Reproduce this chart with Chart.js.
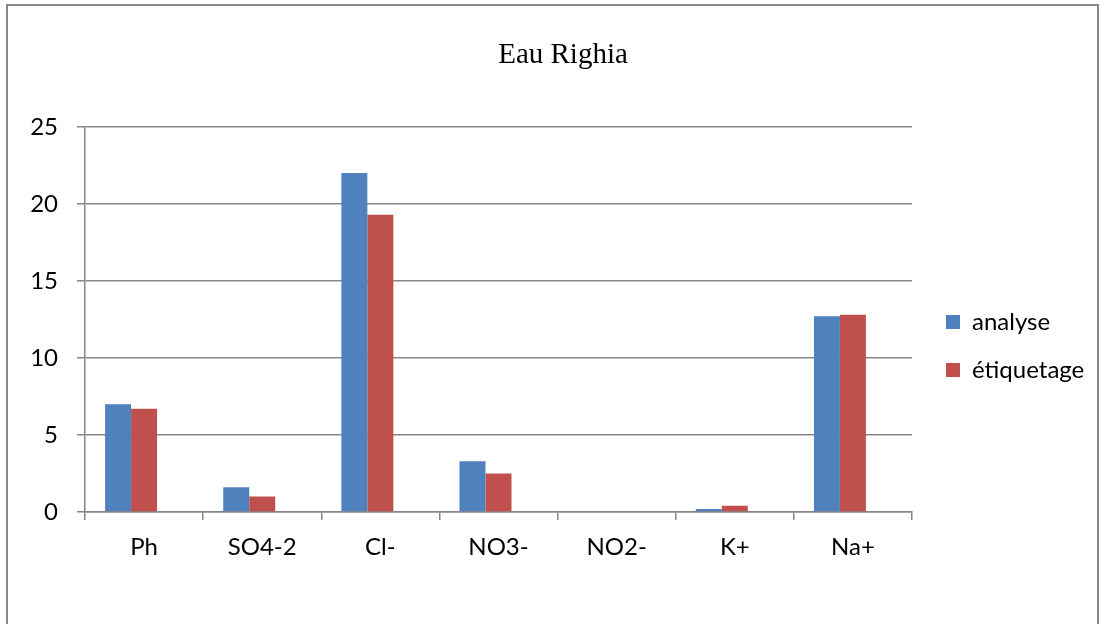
<!DOCTYPE html>
<html>
<head>
<meta charset="utf-8">
<title>Eau Righia</title>
<script src="https://cdn.jsdelivr.net/npm/chart.js@4.4.0/dist/chart.umd.min.js"></script>
<style>
    html, body { margin: 0; padding: 0; background: #fff; overflow: hidden; }
    #frame {
        position: absolute; left: 6px; top: 4px; width: 1093px; height: 700px;
        box-sizing: border-box; border: 2px solid #878787;
    }
    #chart { position: absolute; left: 0; top: 0; }
</style>
</head>
<body>
<div id="frame"></div>
<canvas id="chart" width="1106" height="692"></canvas>
<script>
// Values
const categories = ["Ph", "SO4-2", "Cl-", "NO3-", "NO2-", "K+", "Na+"];
const analyse = [7.0, 1.6, 22.0, 3.3, 0, 0.2, 12.7];
const etiquetage = [6.7, 1.0, 19.3, 2.5, 0, 0.4, 12.8];
// the original sheet has a third, empty series (keeps the gap on the right of each group)
const emptySeries = [null, null, null, null, null, null, null];
const yMin = 0, yMax = 25, yStep = 5;

const gridGrey = "#878787";
const labelFont = { family: "Lato", size: 24 };

// pin the legend width so the plot ends where the original one does
const legendFix = {
    id: "legendFix",
    afterInit(chart) {
        const fit = chart.legend.fit;
        chart.legend.fit = function () {
            fit.call(this);
            this.width = 194;
        };
    },
    afterLayout(chart) {
        chart.legend.left += 10;
        chart.legend.right += 10;
    }
};

const ctx = document.getElementById("chart").getContext("2d");
new Chart(ctx, {
    type: "bar",
    data: {
        labels: categories,
        datasets: [
            { label: "analyse", data: analyse, backgroundColor: "#4F81BD" },
            { label: "étiquetage", data: etiquetage, backgroundColor: "#C0504D" },
            { label: "", data: emptySeries, backgroundColor: "rgba(0,0,0,0)" }
        ]
    },
    options: {
        responsive: false,
        animation: false,
        layout: { padding: { left: 20, right: 0, top: 0, bottom: 0 } },
        datasets: {
            bar: { categoryPercentage: 0.66, barPercentage: 1.0 }
        },
        plugins: {
            title: {
                display: true,
                text: "Eau Righia",
                color: "#000",
                font: { family: "Liberation Serif", size: 29, weight: "normal" },
                padding: { top: 38, bottom: 54 }
            },
            legend: {
                position: "right",
                align: "center",
                labels: {
                    color: "#000",
                    font: labelFont,
                    boxWidth: 14,
                    boxHeight: 14,
                    padding: 24,
                    filter: item => item.datasetIndex < 2
                }
            },
            tooltip: { enabled: false }
        },
        scales: {
            x: {
                afterFit(scale) { scale.height = 180; },
                border: { display: true, color: gridGrey, width: 1.5 },
                grid: {
                    offset: true,
                    drawOnChartArea: false,
                    drawTicks: true,
                    tickLength: 8,
                    color: gridGrey,
                    lineWidth: 1.5
                },
                ticks: { color: "#000", font: labelFont, padding: 13 }
            },
            y: {
                min: yMin,
                max: yMax,
                afterFit(scale) { scale.width = 65; },
                border: { display: true, color: gridGrey, width: 1.5 },
                grid: { color: gridGrey, lineWidth: 1.5, tickLength: 8 },
                ticks: { stepSize: yStep, color: "#000", font: labelFont, padding: 19 }
            }
        }
    },
    plugins: [legendFix]
});
</script>
</body>
</html>
